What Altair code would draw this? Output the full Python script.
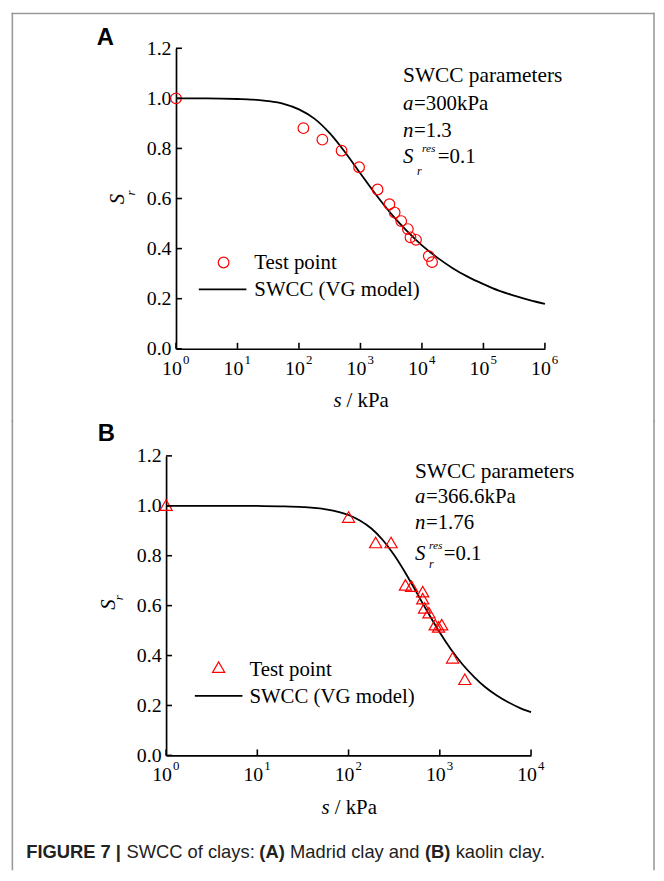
import altair as alt
import pandas as pd

# ---------------- data ----------------
# Panel A (Madrid clay)
curveA_s = [1, 3.16, 10, 17.8, 31.6, 56.2, 100, 178, 316, 562, 1000, 1778, 3162, 5623,
            10000, 17783, 31623, 56234, 100000, 177828, 316228, 562341, 1000000]
curveA_S = [1.000, 0.9999, 0.9975, 0.995, 0.989, 0.978, 0.956, 0.919, 0.861, 0.785, 0.700,
            0.616, 0.539, 0.472, 0.413, 0.364, 0.322, 0.287, 0.258, 0.232, 0.212, 0.194, 0.179]
testA_s = [1, 118, 240, 493, 950, 1900, 2960, 3600, 4600, 5900, 6500, 8000, 12900, 14600]
testA_S = [1.0, 0.881, 0.835, 0.791, 0.725, 0.636, 0.577, 0.544, 0.510, 0.478, 0.445, 0.435, 0.370, 0.346]

# Panel B (kaolin clay)
curveB_s = [1, 3.16, 10, 17.8, 31.6, 56.2, 100, 133, 178, 237, 316, 422, 562, 750, 1000,
            1334, 1778, 2371, 3162, 4217, 5623, 7499, 10000]
curveB_S = [1.000, 1.000, 0.9993, 0.998, 0.995, 0.986, 0.963, 0.941, 0.909, 0.863, 0.803,
            0.730, 0.650, 0.569, 0.492, 0.423, 0.364, 0.315, 0.273, 0.240, 0.213, 0.1905, 0.173]
testB_s = [1, 100, 198, 292, 420, 490, 650, 650, 680, 760, 890, 970, 1050, 1380, 1880]
testB_S = [1.003, 0.955, 0.853, 0.853, 0.683, 0.678, 0.656, 0.628, 0.591, 0.572, 0.524, 0.515, 0.524, 0.391, 0.305]

decadesA = [1, 10, 100, 1000, 10000, 100000, 1000000]
expA = ["0", "1", "2", "3", "4", "5", "6"]
decadesB = [1, 10, 100, 1000, 10000]
expB = ["0", "1", "2", "3", "4"]
yticks = [0.0, 0.2, 0.4, 0.6, 0.8, 1.0, 1.2]

SERIF = "Liberation Serif"
SANS = "Liberation Sans"
RED = "#ff0000"
FRAME = "#9a9a9a"

dummy = pd.DataFrame({"d": [0]})


def txt(x, y, s, size=21, italic=False, bold=False, font=SERIF, align="left",
        baseline="alphabetic", angle=None, color="black"):
    kw = dict(text=s, font=font, fontSize=size, align=align, baseline=baseline, color=color)
    if italic:
        kw["fontStyle"] = "italic"
    if bold:
        kw["fontWeight"] = "bold"
    if angle is not None:
        kw["angle"] = angle
    return alt.Chart(dummy).mark_text(**kw).encode(x=alt.value(x), y=alt.value(y))


def seg(x1, x2, y1, y2, color="black", width=1.8, cap="butt"):
    return alt.Chart(dummy).mark_rule(color=color, strokeWidth=width, strokeCap=cap).encode(
        x=alt.value(x1), x2=alt.value(x2), y=alt.value(y1), y2=alt.value(y2))


def panel(cs, cS, ts, tS, shape, msize, decades, exps, dmax, W, H, x0,
          letter, letter_xy, ann, legend, ytitle, xcenter, frame_y):
    xs = alt.Scale(type="log", domain=[1, dmax], range=[x0, W], nice=False)
    ys = alt.Scale(domain=[0, 1.2], nice=False, zero=False)
    axX = alt.Axis(domain=True, domainColor="black", domainWidth=1.7, ticks=False,
                   labels=False, grid=False, title=None)
    axY = alt.Axis(values=yticks, format=".1f", domain=True, domainColor="black",
                   domainWidth=1.7, ticks=False, grid=False, title=None,
                   labelFont=SERIF, labelFontSize=20, labelColor="black",
                   labelPadding=5, offset=-x0)

    curve = alt.Chart(pd.DataFrame({"s": cs, "S": cS})).mark_line(
        color="black", strokeWidth=1.8, interpolate="monotone").encode(
        x=alt.X("s:Q", scale=xs, axis=axX), y=alt.Y("S:Q", scale=ys, axis=axY))

    pts = alt.Chart(pd.DataFrame({"s": ts, "S": tS})).mark_point(
        shape=shape, filled=False, color=RED, size=msize, strokeWidth=1.2, opacity=1).encode(
        x=alt.X("s:Q", scale=xs, axis=axX), y=alt.Y("S:Q", scale=ys, axis=axY))

    ddf = pd.DataFrame({"s": decades, "e": exps})
    xt = alt.Chart(ddf).mark_rule(color="black", strokeWidth=1.6).encode(
        x=alt.X("s:Q", scale=xs, axis=axX), y=alt.value(H), y2=alt.value(H - 6))
    yt = alt.Chart(pd.DataFrame({"S": yticks})).mark_rule(color="black", strokeWidth=1.6).encode(
        y=alt.Y("S:Q", scale=ys, axis=axY), x=alt.value(x0), x2=alt.value(x0 + 6))
    xl10 = alt.Chart(ddf).mark_text(text="10", font=SERIF, fontSize=20, align="right", dx=6,
                                    baseline="alphabetic", color="black").encode(
        x=alt.X("s:Q", scale=xs, axis=axX), y=alt.value(H + 26))
    xle = alt.Chart(ddf).mark_text(font=SERIF, fontSize=13, align="left", dx=7,
                                   baseline="alphabetic", color="black").encode(
        x=alt.X("s:Q", scale=xs, axis=axX), y=alt.value(H + 15), text="e:N")

    layers = [curve, pts, xt, yt, xl10, xle]

    # panel letter
    layers.append(txt(letter_xy[0], letter_xy[1], letter, size=24, bold=True, font=SANS))
    # parameter annotation
    for (x, y, s, sz, it) in ann:
        layers.append(txt(x, y, s, size=sz, italic=it))
    # legend
    (mx, my), (tx, ty1, ty2), (lx1, lx2, ly) = legend
    layers.append(alt.Chart(dummy).mark_point(shape=shape, filled=False, color=RED, size=msize,
                                              strokeWidth=1.2, opacity=1).encode(
        x=alt.value(mx), y=alt.value(my)))
    layers.append(txt(tx, ty1, "Test point"))
    layers.append(seg(lx1, lx2, ly, ly, width=1.8))
    layers.append(txt(tx, ty2, "SWCC (VG model)"))
    # y title S_r
    (sx, sy), (rx, ry) = ytitle
    layers.append(txt(sx, sy, "S", size=21, italic=True, align="center", baseline="middle", angle=270))
    layers.append(txt(rx, ry, "r", size=13, italic=True, align="center", baseline="middle", angle=270))
    # x title
    layers.append(txt(xcenter - 19, H + 59, "s", size=21, italic=True, align="right"))
    layers.append(txt(xcenter - 14, H + 59, "/ kPa", size=21))
    # frame
    fy1, fy2, top = frame_y
    layers.append(seg(-155, -155, fy1, fy2, color=FRAME, width=1.6, cap="square"))
    layers.append(seg(492, 492, fy1, fy2, color=FRAME, width=1.6, cap="square"))
    if top:
        layers.append(seg(-155, 492, fy1, fy1, color=FRAME, width=1.6, cap="square"))

    return alt.layer(*layers).properties(width=W, height=H)


annA = [(239, 34, "SWCC parameters", 21.5, False),
        (239, 62, "a", 21, True), (250, 62, "=300kPa", 21, False),
        (239, 89, "n", 21, True), (250, 89, "=1.3", 21, False),
        (239, 116, "S", 21, True), (253, 128, "r", 12, True), (258, 105, "res", 11.5, True),
        (274, 116, "=0.1", 21, False)]
annB = [(251, 22, "SWCC parameters", 21.5, False),
        (251, 48, "a", 21, True), (262, 48, "=366.6kPa", 21, False),
        (251, 74, "n", 21, True), (262, 74, "=1.76", 21, False),
        (251, 105, "S", 21, True), (265, 113, "r", 12, True), (265, 94, "res", 11.5, True),
        (280, 105, "=0.1", 21, False)]

chartA = panel(curveA_s, curveA_S, testA_s, testA_S, "circle", 115, decadesA, expA, 1e6,
               382, 303, 10, "A", (-70, -3), annA,
               ((58, 216), (89, 223, 250), (33, 81, 243)),
               ((-48, 152), (-35, 146)), 196, (-35, 376, True))

chartB = panel(curveB_s, curveB_S, testB_s, testB_S, "triangle-up", 150, decadesB, expB, 1e4,
               368, 302, 0, "B", (-69, -15), annB,
               ((53, 213), (84, 222, 249), (29, 77, 242)),
               ((-58, 150), (-47, 143)), 184, (-35, 417, False))

# caption (bold / regular segments)
cap_y = 405
CAP = 18.5
caption = [
    txt(-141, cap_y, "FIGURE 7 |", size=CAP, bold=True, font=SANS, color="#222222"),
    txt(-40, cap_y, "SWCC of clays:", size=CAP, font=SANS, color="#222222"),
    txt(94, cap_y, "(A)", size=CAP, bold=True, font=SANS, color="#222222"),
    txt(125, cap_y, "Madrid clay and", size=CAP, font=SANS, color="#222222"),
    txt(261, cap_y, "(B)", size=CAP, bold=True, font=SANS, color="#222222"),
    txt(292, cap_y, "kaolin clay.", size=CAP, font=SANS, color="#222222"),
]
chartB = alt.layer(chartB, *caption)

chart = alt.vconcat(chartA, chartB, spacing=108, bounds="flush").configure_view(
    stroke=None).properties(padding={"left": 2.4, "top": 0, "right": 0, "bottom": 0},
                            background="white")

chart.save("out.html", embed_options={"renderer": "svg", "actions": False})
